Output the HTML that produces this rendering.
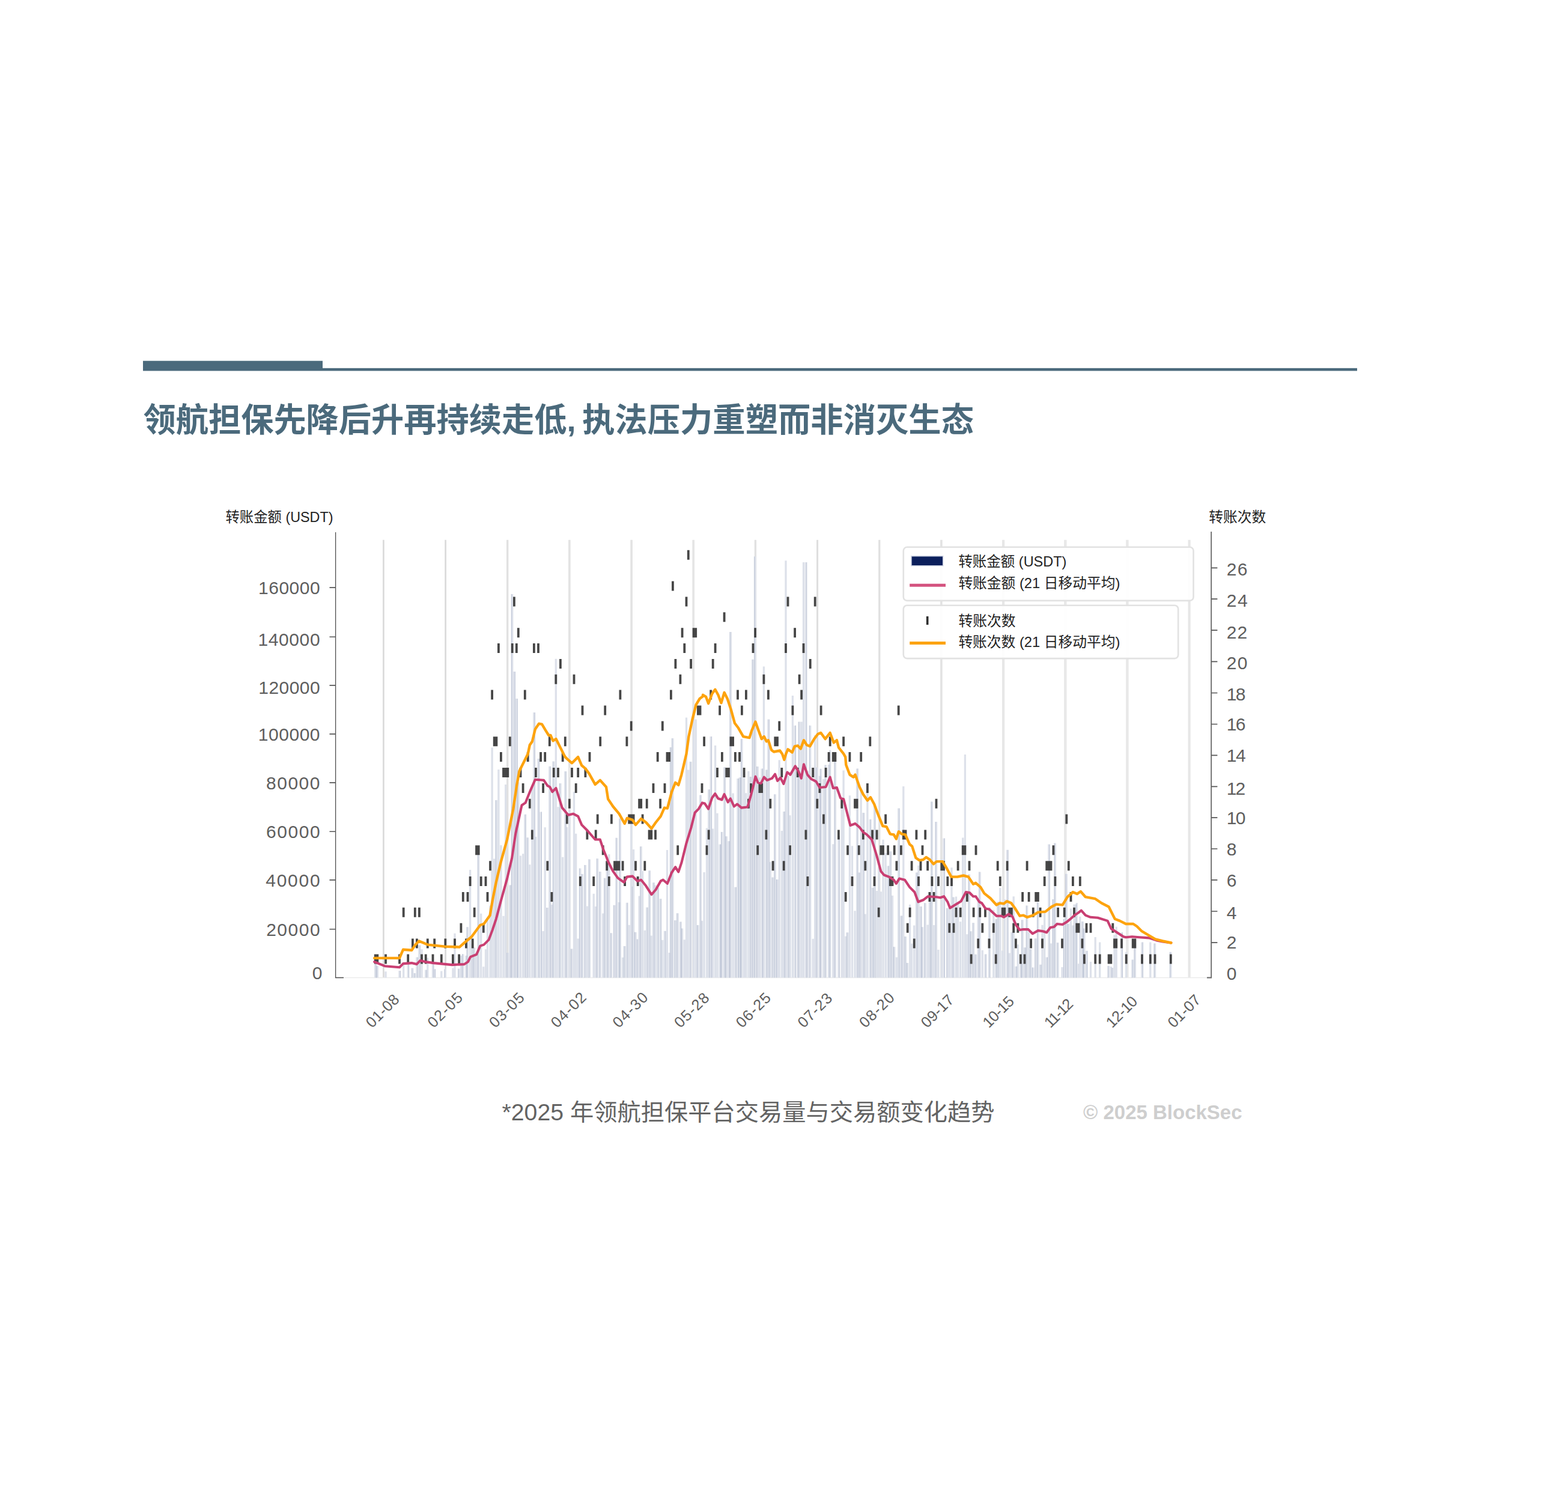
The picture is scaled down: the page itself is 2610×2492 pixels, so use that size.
<!DOCTYPE html>
<html lang="zh"><head><meta charset="utf-8"><title>chart</title>
<style>html,body{margin:0;padding:0;background:#fff}body{width:2610px;height:2492px;position:relative;overflow:hidden;font-family:"Liberation Sans",sans-serif}</style>
</head><body>
<svg width="2610" height="2492" viewBox="0 0 2610 2492" style="position:absolute;left:0;top:0;opacity:.999">
<rect x="238" y="600.7" width="299" height="16.7" fill="#4b6a7c"/>
<rect x="537" y="612.8" width="1722" height="4.6" fill="#4b6a7c"/>
<path d="M638.4 898.8V1627.5" stroke="#dbdbdb" stroke-width="2.8"/>
<path d="M741.6 898.8V1627.5" stroke="#dbdbdb" stroke-width="2.8"/>
<path d="M844.7 898.8V1627.5" stroke="#e1e1e1" stroke-width="3.4"/>
<path d="M947.9 898.8V1627.5" stroke="#e3e3e3" stroke-width="3.6"/>
<path d="M1051.1 898.8V1627.5" stroke="#e3e3e3" stroke-width="3.6"/>
<path d="M1154.2 898.8V1627.5" stroke="#e5e5e5" stroke-width="3.8"/>
<path d="M1257.4 898.8V1627.5" stroke="#e1e1e1" stroke-width="3.4"/>
<path d="M1360.6 898.8V1627.5" stroke="#dedede" stroke-width="3.0"/>
<path d="M1463.8 898.8V1627.5" stroke="#e0e0e0" stroke-width="3.2"/>
<path d="M1566.9 898.8V1627.5" stroke="#e3e3e3" stroke-width="3.6"/>
<path d="M1670.1 898.8V1627.5" stroke="#e7e7e7" stroke-width="4.2"/>
<path d="M1773.3 898.8V1627.5" stroke="#e8e8e8" stroke-width="4.4"/>
<path d="M1876.4 898.8V1627.5" stroke="#e8e8e8" stroke-width="4.4"/>
<path d="M1979.6 898.8V1627.5" stroke="#e7e7e7" stroke-width="4.2"/>
<path d="M559 1627.5H2016" stroke="#ececec" stroke-width="1.6"/>
<path d="M624.7 1627.5V1590.8M628.3 1627.5V1608.0M642.0 1627.5V1617.3M665.0 1627.5V1616.0M671.7 1627.5V1605.4M679.2 1627.5V1601.4M686.9 1627.5V1611.6M690.8 1627.5V1619.9M693.9 1627.5V1593.5M697.9 1627.5V1573.6M702.0 1627.5V1580.2M708.7 1627.5V1614.6M711.8 1627.5V1594.6M720.5 1627.5V1603.0M723.2 1627.5V1613.3M734.8 1627.5V1616.5M741.3 1627.5V1613.3M753.9 1627.5V1611.4M757.0 1627.5V1553.8M764.1 1627.5V1612.6M767.4 1627.5V1590.8M770.8 1627.5V1588.2M775.9 1627.5V1590.8M778.5 1627.5V1543.2M782.6 1627.5V1447.9M786.7 1627.5V1571.0M789.7 1627.5V1577.6M793.0 1627.5V1587.3M796.7 1627.5V1421.5M800.7 1627.5V1520.7M804.8 1627.5V1609.3M808.5 1627.5V1580.2M811.5 1627.5V1531.9M816.0 1627.5V1507.5M819.1 1627.5V1244.4M822.7 1627.5V1429.4M826.4 1627.5V1332.0M829.9 1627.5V1281.0M833.9 1627.5V1406.9M838.0 1627.5V1524.7M841.7 1627.5V1306.0M845.3 1627.5V1586.0M848.8 1627.5V1473.4M852.7 1627.5V988.9M855.9 1627.5V1118.0M859.8 1627.5V1163.0M862.8 1627.5V1302.3M866.5 1627.5V1424.4M870.6 1627.5V1421.2M873.8 1627.5V1355.7M878.7 1627.5V1394.3M881.8 1627.5V1439.2M885.8 1627.5V1310.5M888.9 1627.5V1186.0M891.9 1627.5V1393.0M896.0 1627.5V1263.0M900.1 1627.5V1351.5M904.1 1627.5V1550.0M907.2 1627.5V1377.2M911.3 1627.5V1511.0M914.8 1627.5V1275.7M918.4 1627.5V1505.7M921.7 1627.5V1267.5M925.3 1627.5V1096.8M929.0 1627.5V1343.3M932.9 1627.5V1304.0M936.7 1627.5V1426.8M940.8 1627.5V1284.1M943.8 1627.5V1376.8M947.9 1627.5V1347.9M952.0 1627.5V1579.6M955.5 1627.5V1318.0M958.7 1627.5V1387.8M962.2 1627.5V1562.5M965.8 1627.5V1445.6M969.5 1627.5V1454.9M974.4 1627.5V1439.9M977.4 1627.5V1508.6M981.5 1627.5V1430.4M988.2 1627.5V1487.8M991.7 1627.5V1508.9M994.7 1627.5V1429.2M999.2 1627.5V1451.0M1003.7 1627.5V1520.4M1007.2 1627.5V1461.7M1010.2 1627.5V1436.2M1013.8 1627.5V1422.3M1017.9 1627.5V1553.3M1023.0 1627.5V1506.8M1026.7 1627.5V1394.7M1030.3 1627.5V1502.0M1032.4 1627.5V1362.6M1036.6 1627.5V1593.7M1040.1 1627.5V1574.9M1043.4 1627.5V1502.8M1047.2 1627.5V1539.8M1050.7 1627.5V1360.1M1050.9 1627.5V1475.8M1054.6 1627.5V1414.1M1058.0 1627.5V1551.7M1061.7 1627.5V1563.5M1064.1 1627.5V1491.4M1067.2 1627.5V1409.1M1069.6 1627.5V1450.0M1073.3 1627.5V1548.7M1076.7 1627.5V1510.6M1080.6 1627.5V1449.3M1084.3 1627.5V1557.5M1087.5 1627.5V1469.2M1091.0 1627.5V1473.6M1094.7 1627.5V1478.2M1099.1 1627.5V1496.2M1102.8 1627.5V1564.8M1106.5 1627.5V1549.8M1110.5 1627.5V1414.9M1114.2 1627.5V1586.1M1116.9 1627.5V1244.0M1119.9 1627.5V1229.0M1124.4 1627.5V1532.1M1128.2 1627.5V1520.3M1132.4 1627.5V1534.4M1135.6 1627.5V1545.6M1139.3 1627.5V1564.2M1142.5 1627.5V1194.5M1145.8 1627.5V1281.6M1150.1 1627.5V1267.9M1154.6 1627.5V1177.0M1158.2 1627.5V1197.5M1161.9 1627.5V1540.1M1165.5 1627.5V1323.5M1168.5 1627.5V1532.7M1172.1 1627.5V1452.1M1176.5 1627.5V1378.5M1179.7 1627.5V1314.2M1183.2 1627.5V1226.0M1186.7 1627.5V1379.5M1190.6 1627.5V1241.0M1194.0 1627.5V1353.8M1198.1 1627.5V1405.6M1201.9 1627.5V1384.9M1205.6 1627.5V1277.3M1209.3 1627.5V1392.2M1212.9 1627.5V1400.2M1216.4 1627.5V1052.0M1220.1 1627.5V1320.4M1223.9 1627.5V1476.7M1228.0 1627.5V1296.1M1231.0 1627.5V1294.2M1234.9 1627.5V1230.0M1238.6 1627.5V1285.5M1241.9 1627.5V1320.2M1245.9 1627.5V1283.8M1250.0 1627.5V1293.0M1253.5 1627.5V1097.8M1257.1 1627.5V926.4M1261.2 1627.5V1275.9M1264.4 1627.5V1294.3M1268.1 1627.5V1279.5M1271.4 1627.5V1109.6M1275.4 1627.5V1281.5M1278.9 1627.5V1197.6M1282.3 1627.5V1434.9M1286.6 1627.5V1460.5M1290.3 1627.5V1322.3M1294.0 1627.5V1464.0M1297.2 1627.5V1265.2M1301.3 1627.5V1382.9M1304.7 1627.5V1350.9M1308.0 1627.5V933.3M1311.5 1627.5V1291.6M1315.1 1627.5V1357.2M1319.4 1627.5V1157.9M1323.1 1627.5V1207.7M1327.7 1627.5V1276.8M1330.6 1627.5V1201.6M1334.1 1627.5V1201.6M1337.5 1627.5V936.0M1341.4 1627.5V936.0M1344.4 1627.5V1283.0M1348.7 1627.5V1207.7M1353.2 1627.5V1562.8M1356.7 1627.5V1224.0M1360.3 1627.5V1277.6M1364.4 1627.5V1291.8M1366.6 1627.5V1279.8M1370.9 1627.5V1297.0M1374.6 1627.5V1273.4M1379.6 1627.5V1272.7M1381.7 1627.5V1248.5M1386.8 1627.5V1405.2M1390.4 1627.5V1264.5M1395.9 1627.5V1391.7M1401.2 1627.5V1329.6M1404.1 1627.5V1282.5M1407.7 1627.5V1558.4M1411.0 1627.5V1552.3M1414.4 1627.5V1324.2M1418.5 1627.5V1408.3M1423.0 1627.5V1516.2M1426.6 1627.5V1279.4M1429.7 1627.5V1452.6M1433.2 1627.5V1316.1M1436.8 1627.5V1353.1M1440.3 1627.5V1521.5M1443.9 1627.5V1316.9M1448.3 1627.5V1363.9M1452.1 1627.5V1477.8M1455.5 1627.5V1338.6M1459.6 1627.5V1482.9M1462.7 1627.5V1443.7M1466.3 1627.5V1484.3M1470.0 1627.5V1397.7M1474.1 1627.5V1420.0M1478.1 1627.5V1441.4M1481.8 1627.5V1417.2M1485.5 1627.5V1490.7M1488.7 1627.5V1576.2M1492.4 1627.5V1593.5M1495.7 1627.5V1345.6M1499.9 1627.5V1524.4M1503.8 1627.5V1309.0M1507.5 1627.5V1558.9M1510.7 1627.5V1602.9M1514.6 1627.5V1505.8M1517.6 1627.5V1570.7M1521.7 1627.5V1540.6M1525.4 1627.5V1452.4M1529.0 1627.5V1440.8M1532.5 1627.5V1508.9M1535.5 1627.5V1543.2M1540.2 1627.5V1503.2M1544.1 1627.5V1539.6M1547.4 1627.5V1487.0M1551.4 1627.5V1334.4M1554.5 1627.5V1539.9M1558.5 1627.5V1368.0M1562.0 1627.5V1580.9M1567.3 1627.5V1498.7M1571.0 1627.5V1395.5M1577.3 1627.5V1511.8M1580.3 1627.5V1511.2M1584.0 1627.5V1444.3M1587.5 1627.5V1493.4M1591.5 1627.5V1492.4M1594.6 1627.5V1502.4M1598.7 1627.5V1534.2M1602.7 1627.5V1394.4M1606.4 1627.5V1256.0M1609.8 1627.5V1555.2M1613.5 1627.5V1455.5M1616.6 1627.5V1550.3M1620.6 1627.5V1536.3M1624.5 1627.5V1588.7M1628.2 1627.5V1500.1M1631.2 1627.5V1451.4M1635.3 1627.5V1581.8M1640.0 1627.5V1588.4M1646.5 1627.5V1510.5M1653.8 1627.5V1514.7M1657.7 1627.5V1530.1M1660.7 1627.5V1501.3M1664.8 1627.5V1477.9M1668.7 1627.5V1582.6M1672.3 1627.5V1497.0M1676.6 1627.5V1414.8M1680.3 1627.5V1586.5M1683.9 1627.5V1551.7M1687.2 1627.5V1492.3M1690.9 1627.5V1608.7M1694.3 1627.5V1572.2M1698.8 1627.5V1600.9M1702.1 1627.5V1531.3M1705.5 1627.5V1577.3M1709.6 1627.5V1507.4M1712.6 1627.5V1551.7M1716.1 1627.5V1580.1M1719.8 1627.5V1610.6M1724.2 1627.5V1562.3M1727.9 1627.5V1502.3M1731.6 1627.5V1605.8M1735.0 1627.5V1539.8M1738.7 1627.5V1518.6M1742.2 1627.5V1593.5M1745.8 1627.5V1405.6M1749.5 1627.5V1570.5M1753.4 1627.5V1497.1M1756.4 1627.5V1403.6M1761.1 1627.5V1569.2M1768.0 1627.5V1610.0M1771.7 1627.5V1529.8M1775.3 1627.5V1454.8M1778.8 1627.5V1537.8M1782.5 1627.5V1512.5M1785.9 1627.5V1540.4M1788.0 1627.5V1505.6M1790.0 1627.5V1505.4M1792.3 1627.5V1503.1M1795.5 1627.5V1604.3M1797.8 1627.5V1525.7M1801.4 1627.5V1533.9M1804.9 1627.5V1545.6M1808.5 1627.5V1582.8M1815.5 1627.5V1601.0M1823.2 1627.5V1560.1M1830.7 1627.5V1568.5M1845.6 1627.5V1607.8M1849.3 1627.5V1609.0M1852.3 1627.5V1611.0M1855.0 1627.5V1556.3M1858.2 1627.5V1542.7M1867.0 1627.5V1552.2M1874.7 1627.5V1584.8M1885.7 1627.5V1597.6M1889.4 1627.5V1568.5M1901.0 1627.5V1568.5M1914.8 1627.5V1568.5M1922.5 1627.5V1570.5M1948.8 1627.5V1584.8" stroke="#dde1ea" stroke-width="3.3" fill="none"/>
<path d="M626.1 1627.5V1590.8M626.9 1627.5V1608.0M666.4 1627.5V1616.0M680.6 1627.5V1601.4M685.5 1627.5V1611.6M689.4 1627.5V1619.9M695.3 1627.5V1593.5M699.3 1627.5V1573.6M710.1 1627.5V1614.6M721.9 1627.5V1603.0M724.6 1627.5V1613.3M739.9 1627.5V1613.3M762.7 1627.5V1612.6M769.4 1627.5V1588.2M777.3 1627.5V1590.8M777.1 1627.5V1543.2M785.3 1627.5V1571.0M788.3 1627.5V1577.6M795.3 1627.5V1421.5M825.0 1627.5V1332.0M843.9 1627.5V1586.0M850.2 1627.5V1473.4M851.3 1627.5V988.9M857.3 1627.5V1118.0M861.2 1627.5V1163.0M861.4 1627.5V1302.3M875.2 1627.5V1355.7M877.3 1627.5V1394.3M890.3 1627.5V1186.0M897.4 1627.5V1263.0M901.5 1627.5V1351.5M909.9 1627.5V1511.0M916.2 1627.5V1275.7M920.3 1627.5V1267.5M931.5 1627.5V1304.0M942.2 1627.5V1284.1M950.6 1627.5V1579.6M964.4 1627.5V1445.6M968.1 1627.5V1454.9M973.0 1627.5V1439.9M980.1 1627.5V1430.4M993.3 1627.5V1429.2M997.8 1627.5V1451.0M1005.8 1627.5V1461.7M1011.6 1627.5V1436.2M1016.5 1627.5V1553.3M1021.6 1627.5V1506.8M1025.3 1627.5V1394.7M1031.7 1627.5V1502.0M1031.0 1627.5V1362.6M1038.7 1627.5V1574.9M1044.8 1627.5V1502.8M1052.3 1627.5V1475.8M1056.6 1627.5V1551.7M1060.3 1627.5V1563.5M1065.8 1627.5V1409.1M1078.1 1627.5V1510.6M1082.0 1627.5V1449.3M1088.9 1627.5V1469.2M1096.1 1627.5V1478.2M1100.5 1627.5V1496.2M1107.9 1627.5V1549.8M1115.6 1627.5V1586.1M1115.5 1627.5V1244.0M1118.5 1627.5V1229.0M1123.0 1627.5V1532.1M1126.8 1627.5V1520.3M1133.8 1627.5V1534.4M1134.2 1627.5V1545.6M1148.7 1627.5V1267.9M1160.5 1627.5V1540.1M1166.9 1627.5V1323.5M1181.1 1627.5V1314.2M1184.6 1627.5V1226.0M1199.5 1627.5V1405.6M1200.5 1627.5V1384.9M1207.0 1627.5V1277.3M1207.9 1627.5V1392.2M1214.3 1627.5V1400.2M1215.0 1627.5V1052.0M1225.3 1627.5V1476.7M1229.4 1627.5V1296.1M1232.4 1627.5V1294.2M1233.5 1627.5V1230.0M1248.6 1627.5V1293.0M1252.1 1627.5V1097.8M1255.7 1627.5V926.4M1259.8 1627.5V1275.9M1269.5 1627.5V1279.5M1276.8 1627.5V1281.5M1280.3 1627.5V1197.6M1285.2 1627.5V1460.5M1288.9 1627.5V1322.3M1292.6 1627.5V1464.0M1306.1 1627.5V1350.9M1312.9 1627.5V1291.6M1324.5 1627.5V1207.7M1329.2 1627.5V1201.6M1342.8 1627.5V936.0M1347.3 1627.5V1207.7M1358.9 1627.5V1277.6M1365.8 1627.5V1291.8M1365.2 1627.5V1279.8M1373.2 1627.5V1273.4M1381.0 1627.5V1272.7M1389.0 1627.5V1264.5M1397.3 1627.5V1391.7M1409.6 1627.5V1552.3M1428.0 1627.5V1279.4M1431.1 1627.5V1452.6M1438.2 1627.5V1353.1M1449.7 1627.5V1363.9M1453.5 1627.5V1477.8M1456.9 1627.5V1338.6M1479.5 1627.5V1441.4M1483.2 1627.5V1417.2M1487.3 1627.5V1576.2M1497.1 1627.5V1345.6M1501.3 1627.5V1524.4M1506.1 1627.5V1558.9M1509.3 1627.5V1602.9M1526.8 1627.5V1452.4M1533.9 1627.5V1508.9M1534.1 1627.5V1543.2M1538.8 1627.5V1503.2M1548.8 1627.5V1487.0M1550.0 1627.5V1334.4M1557.1 1627.5V1368.0M1572.4 1627.5V1395.5M1575.9 1627.5V1511.8M1586.1 1627.5V1493.4M1612.1 1627.5V1455.5M1615.2 1627.5V1550.3M1619.2 1627.5V1536.3M1623.1 1627.5V1588.7M1629.8 1627.5V1451.4M1641.4 1627.5V1588.4M1647.9 1627.5V1510.5M1659.1 1627.5V1530.1M1662.1 1627.5V1501.3M1678.0 1627.5V1414.8M1685.3 1627.5V1551.7M1692.3 1627.5V1608.7M1700.2 1627.5V1600.9M1700.7 1627.5V1531.3M1706.9 1627.5V1577.3M1708.2 1627.5V1507.4M1714.7 1627.5V1580.1M1718.4 1627.5V1610.6M1722.8 1627.5V1562.3M1726.5 1627.5V1502.3M1733.0 1627.5V1605.8M1743.6 1627.5V1593.5M1747.2 1627.5V1405.6M1752.0 1627.5V1497.1M1755.0 1627.5V1403.6M1759.7 1627.5V1569.2M1770.3 1627.5V1529.8M1773.9 1627.5V1454.8M1777.4 1627.5V1537.8M1787.3 1627.5V1540.4M1791.4 1627.5V1505.4M1802.8 1627.5V1533.9M1803.5 1627.5V1545.6M1809.9 1627.5V1582.8M1844.2 1627.5V1607.8M1850.9 1627.5V1611.0M1868.4 1627.5V1552.2M1884.3 1627.5V1597.6M1888.0 1627.5V1568.5M1902.4 1627.5V1568.5M1921.1 1627.5V1570.5M1947.4 1627.5V1584.8" stroke="#b7bfd1" stroke-width="0.9" fill="none"/>
<path d="M624.7 1588.4v16M628.3 1588.4v16M642.0 1588.4v16M665.0 1588.4v16M671.7 1510.8v16M679.2 1588.4v16M686.9 1562.6v16M690.8 1510.8v16M693.9 1562.6v16M697.9 1510.8v16M702.0 1588.4v16M708.7 1588.4v16M711.8 1562.6v16M720.5 1588.4v16M723.2 1562.6v16M734.8 1588.4v16M741.3 1562.6v16M753.9 1588.4v16M757.0 1562.6v16M764.1 1588.4v16M767.4 1536.7v16M770.8 1485.0v16M775.9 1562.6v16M778.5 1485.0v16M782.6 1459.1v16M786.7 1562.6v16M789.7 1510.8v16M793.0 1407.3v16M796.7 1407.3v16M800.7 1459.1v16M804.8 1536.7v16M808.5 1459.1v16M811.5 1485.0v16M816.0 1433.2v16M819.1 1148.6v16M822.7 1226.2v16M826.4 1226.2v16M829.9 1071.0v16M833.9 1252.1v16M838.0 1278.0v16M841.7 1278.0v16M845.3 1278.0v16M848.8 1226.2v16M852.7 1071.0v16M855.9 993.4v16M859.8 1071.0v16M862.8 1045.2v16M866.5 1278.0v16M870.6 1303.9v16M873.8 1148.6v16M878.7 1252.1v16M881.8 1329.7v16M885.8 1381.5v16M888.9 1071.0v16M891.9 1278.0v16M896.0 1071.0v16M900.1 1252.1v16M904.1 1303.9v16M907.2 1252.1v16M911.3 1433.2v16M914.8 1226.2v16M918.4 1485.0v16M921.7 1278.0v16M925.3 1122.8v16M929.0 1278.0v16M932.9 1096.9v16M936.7 1252.1v16M940.8 1226.2v16M943.8 1355.6v16M947.9 1329.7v16M952.0 1278.0v16M955.5 1122.8v16M958.7 1303.9v16M962.2 1278.0v16M965.8 1459.1v16M969.5 1174.5v16M974.4 1278.0v16M977.4 1381.5v16M981.5 1252.1v16M988.2 1459.1v16M991.7 1381.5v16M994.7 1355.6v16M999.2 1226.2v16M1003.7 1407.3v16M1007.2 1174.5v16M1010.2 1433.2v16M1013.8 1459.1v16M1017.9 1355.6v16M1023.0 1433.2v16M1026.7 1433.2v16M1030.3 1433.2v16M1032.4 1148.6v16M1036.6 1433.2v16M1040.1 1459.1v16M1043.4 1226.2v16M1047.2 1355.6v16M1050.7 1200.4v16M1050.9 1355.6v16M1054.6 1355.6v16M1058.0 1433.2v16M1061.7 1459.1v16M1064.1 1329.7v16M1067.2 1329.7v16M1069.6 1355.6v16M1073.3 1433.2v16M1076.7 1329.7v16M1080.6 1381.5v16M1084.3 1381.5v16M1087.5 1303.9v16M1091.0 1381.5v16M1094.7 1252.1v16M1099.1 1329.7v16M1102.8 1200.4v16M1106.5 1303.9v16M1110.5 1252.1v16M1114.2 1252.1v16M1116.9 1148.6v16M1119.9 967.5v16M1124.4 1096.9v16M1128.2 1407.3v16M1132.4 1122.8v16M1135.6 1045.2v16M1139.3 1071.0v16M1142.5 993.4v16M1145.8 915.8v16M1150.1 1096.9v16M1154.6 1045.2v16M1158.2 1045.2v16M1161.9 1174.5v16M1165.5 1174.5v16M1168.5 1303.9v16M1172.1 1226.2v16M1176.5 1407.3v16M1179.7 1381.5v16M1183.2 1148.6v16M1186.7 1096.9v16M1190.6 1071.0v16M1194.0 1278.0v16M1198.1 1174.5v16M1201.9 1252.1v16M1205.6 1019.3v16M1209.3 1278.0v16M1212.9 1278.0v16M1216.4 1226.2v16M1220.1 1226.2v16M1223.9 1252.1v16M1228.0 1148.6v16M1231.0 1252.1v16M1234.9 1174.5v16M1238.6 1278.0v16M1241.9 1148.6v16M1245.9 1329.7v16M1250.0 1303.9v16M1253.5 1071.0v16M1257.1 1045.2v16M1261.2 1407.3v16M1264.4 1303.9v16M1268.1 1303.9v16M1271.4 1122.8v16M1275.4 1381.5v16M1278.9 1148.6v16M1282.3 1329.7v16M1286.6 1433.2v16M1290.3 1226.2v16M1294.0 1226.2v16M1297.2 1200.4v16M1301.3 1278.0v16M1304.7 1433.2v16M1308.0 1071.0v16M1311.5 993.4v16M1315.1 1407.3v16M1319.4 1174.5v16M1323.1 1045.2v16M1327.7 1278.0v16M1330.6 1122.8v16M1334.1 1148.6v16M1337.5 1071.0v16M1341.4 1381.5v16M1344.4 1459.1v16M1348.7 1096.9v16M1353.2 1278.0v16M1356.7 993.4v16M1360.3 1329.7v16M1364.4 1303.9v16M1366.6 1174.5v16M1370.9 1355.6v16M1374.6 1278.0v16M1379.6 1252.1v16M1381.7 1226.2v16M1386.8 1252.1v16M1390.4 1252.1v16M1395.9 1381.5v16M1401.2 1329.7v16M1404.1 1226.2v16M1407.7 1485.0v16M1411.0 1407.3v16M1414.4 1252.1v16M1418.5 1459.1v16M1423.0 1329.7v16M1426.6 1329.7v16M1429.7 1407.3v16M1433.2 1252.1v16M1436.8 1381.5v16M1440.3 1433.2v16M1443.9 1303.9v16M1448.3 1226.2v16M1452.1 1381.5v16M1455.5 1459.1v16M1459.6 1381.5v16M1462.7 1510.8v16M1466.3 1407.3v16M1470.0 1407.3v16M1474.1 1355.6v16M1478.1 1407.3v16M1481.8 1459.1v16M1485.5 1459.1v16M1488.7 1407.3v16M1492.4 1433.2v16M1495.7 1174.5v16M1499.9 1407.3v16M1503.8 1381.5v16M1507.5 1381.5v16M1510.7 1536.7v16M1514.6 1510.8v16M1517.6 1433.2v16M1521.7 1562.6v16M1525.4 1381.5v16M1529.0 1459.1v16M1532.5 1433.2v16M1535.5 1407.3v16M1540.2 1381.5v16M1544.1 1433.2v16M1547.4 1485.0v16M1551.4 1459.1v16M1554.5 1485.0v16M1558.5 1329.7v16M1562.0 1459.1v16M1567.3 1433.2v16M1571.0 1433.2v16M1577.3 1459.1v16M1580.3 1536.7v16M1584.0 1459.1v16M1587.5 1536.7v16M1591.5 1510.8v16M1594.6 1433.2v16M1598.7 1510.8v16M1602.7 1407.3v16M1606.4 1407.3v16M1609.8 1485.0v16M1613.5 1433.2v16M1616.6 1588.4v16M1620.6 1510.8v16M1624.5 1407.3v16M1628.2 1562.6v16M1631.2 1510.8v16M1635.3 1536.7v16M1640.0 1510.8v16M1646.5 1562.6v16M1653.8 1536.7v16M1657.7 1588.4v16M1660.7 1433.2v16M1664.8 1459.1v16M1668.7 1510.8v16M1672.3 1510.8v16M1676.6 1433.2v16M1680.3 1510.8v16M1683.9 1510.8v16M1687.2 1536.7v16M1690.9 1562.6v16M1694.3 1536.7v16M1698.8 1588.4v16M1702.1 1485.0v16M1705.5 1588.4v16M1709.6 1433.2v16M1712.6 1485.0v16M1716.1 1562.6v16M1719.8 1510.8v16M1724.2 1485.0v16M1727.9 1485.0v16M1731.6 1510.8v16M1735.0 1562.6v16M1738.7 1459.1v16M1742.2 1433.2v16M1745.8 1433.2v16M1749.5 1433.2v16M1753.4 1407.3v16M1756.4 1459.1v16M1761.1 1510.8v16M1768.0 1562.6v16M1771.7 1510.8v16M1775.3 1355.6v16M1778.8 1433.2v16M1782.5 1485.0v16M1785.9 1459.1v16M1788.0 1510.8v16M1792.3 1536.7v16M1795.5 1536.7v16M1797.8 1459.1v16M1801.4 1562.6v16M1804.9 1588.4v16M1808.5 1536.7v16M1815.5 1536.7v16M1823.2 1588.4v16M1830.7 1588.4v16M1845.6 1588.4v16M1849.3 1588.4v16M1852.3 1536.7v16M1855.0 1562.6v16M1858.2 1562.6v16M1867.0 1562.6v16M1874.7 1588.4v16M1885.7 1562.6v16M1889.4 1562.6v16M1901.0 1588.4v16M1914.8 1588.4v16M1922.5 1588.4v16M1948.8 1588.4v16" stroke="#383838" stroke-width="3.8" fill="none" opacity=".93"/>
<path d="M623.2 1601.1L640.5 1608.2L665.0 1610.2L671.1 1604.1L685.3 1603.1L693.5 1605.1L699.6 1599.0L707.7 1601.1L722.0 1603.1L752.5 1606.1L772.8 1605.1L779.0 1601.1L783.0 1592.9L793.2 1588.8L799.3 1574.6L805.4 1572.6L813.6 1564.4L819.7 1548.1L825.8 1529.8L833.9 1499.3L844.1 1462.6L852.2 1428.0L858.3 1387.3L868.5 1340.5L874.6 1336.4L882.8 1316.1L890.9 1297.7L905.2 1298.8L911.3 1307.9L915.3 1310.0L919.4 1318.1L925.5 1312.0L935.7 1344.6L945.9 1356.8L954.0 1354.7L962.2 1358.8L968.3 1373.1L976.4 1381.2L990.7 1397.5L998.8 1397.5L1004.9 1415.8L1010.0 1428.0L1012.2 1434.1L1020.4 1450.4L1028.5 1461.6L1038.7 1468.7L1043.8 1459.6L1052.9 1458.6L1061.1 1466.7L1067.2 1464.7L1075.3 1474.8L1084.5 1489.1L1091.6 1481.0L1099.7 1466.7L1103.8 1464.7L1110.9 1470.8L1118.1 1452.5L1124.2 1443.3L1129.3 1451.4L1134.4 1436.2L1142.5 1403.6L1150.6 1377.1L1156.7 1352.7L1162.8 1346.6L1169.0 1336.4L1173.0 1337.4L1179.1 1346.6L1185.2 1328.3L1190.3 1321.2L1195.4 1329.3L1201.5 1331.3L1205.6 1322.2L1211.7 1335.4L1215.8 1329.3L1221.9 1342.5L1227.0 1338.5L1234.1 1344.6L1244.3 1343.5L1250.4 1322.2L1254.5 1305.9L1257.5 1292.7L1261.6 1302.8L1266.7 1303.9L1271.8 1293.7L1276.8 1298.8L1285.0 1295.7L1290.1 1288.6L1294.1 1299.8L1299.2 1294.7L1304.3 1304.9L1310.4 1285.5L1315.5 1289.6L1323.7 1275.4L1328.8 1283.5L1333.8 1295.7L1337.9 1272.3L1344.0 1289.6L1350.1 1296.7L1358.3 1300.8L1364.4 1311.0L1374.6 1310.0L1381.7 1293.7L1386.8 1312.0L1392.9 1311.0L1399.0 1328.3L1400.2 1329.3L1404.2 1330.3L1410.4 1354.7L1415.4 1374.1L1423.6 1371.0L1430.7 1377.1L1436.8 1385.3L1442.9 1389.4L1451.1 1397.5L1459.2 1424.0L1466.3 1450.4L1471.4 1456.5L1479.6 1459.6L1487.7 1464.7L1491.8 1470.8L1496.9 1462.6L1506.0 1464.7L1514.2 1476.9L1522.3 1485.0L1528.4 1501.3L1536.6 1498.3L1544.7 1492.2L1559.0 1493.2L1565.1 1494.2L1571.2 1492.2L1577.3 1501.3L1581.3 1511.5L1589.5 1506.4L1599.7 1500.3L1607.8 1485.0L1613.9 1486.0L1620.0 1492.2L1624.1 1492.2L1630.2 1501.3L1634.3 1503.3L1640.4 1512.5L1646.5 1513.5L1658.7 1524.7L1666.8 1524.7L1670.9 1526.8L1679.1 1521.7L1685.2 1525.7L1691.3 1540.0L1697.4 1548.1L1703.5 1547.1L1711.6 1547.1L1718.8 1554.2L1727.9 1549.1L1736.1 1550.2L1742.2 1552.2L1748.3 1544.1L1754.4 1543.0L1759.5 1538.0L1768.6 1539.0L1776.8 1533.9L1782.9 1528.8L1789.0 1523.3L1794.7 1519.6L1799.8 1515.6L1806.9 1523.7L1815.1 1526.8L1827.3 1527.8L1843.6 1532.9L1849.7 1546.1L1857.8 1551.2L1870.0 1559.3L1874.1 1560.3L1884.3 1559.3L1896.5 1560.3L1912.8 1561.4L1925.0 1565.4L1935.2 1567.5L1949.4 1569.5" stroke="#c93f72" stroke-width="4.1" fill="none" stroke-linejoin="round" stroke-linecap="round"/>
<path d="M623.2 1594.9L665.0 1594.9L671.1 1580.7L685.3 1581.7L691.4 1572.6L697.5 1566.5L711.8 1572.6L740.3 1575.6L764.7 1576.6L772.8 1569.5L785.1 1559.3L799.3 1540.0L805.4 1538.0L815.6 1523.7L819.7 1499.3L825.8 1468.7L833.9 1434.1L844.1 1397.5L854.3 1346.6L860.4 1305.9L864.5 1283.5L872.6 1267.2L878.7 1255.0L881.8 1240.3L885.9 1234.2L890.9 1213.8L897.0 1204.7L902.1 1205.7L908.2 1215.9L913.3 1224.0L916.4 1224.0L920.5 1233.2L925.5 1230.1L930.6 1240.3L938.8 1256.6L940.8 1260.1L943.8 1263.1L952.0 1270.3L962.2 1260.1L968.3 1274.3L974.4 1279.4L980.5 1287.6L990.7 1305.9L998.8 1298.8L1009.0 1310.0L1012.2 1330.3L1020.4 1342.5L1030.5 1354.7L1039.7 1371.0L1043.8 1361.9L1052.9 1364.9L1058.0 1373.1L1067.2 1362.9L1075.3 1369.0L1084.5 1379.2L1091.6 1369.0L1099.7 1358.8L1105.9 1344.6L1110.9 1345.6L1118.1 1318.1L1124.2 1302.8L1129.3 1306.9L1134.4 1289.6L1142.5 1255.0L1146.4 1226.1L1152.5 1197.6L1158.6 1173.1L1164.7 1163.0L1169.8 1159.3L1170.0 1156.8L1175.1 1159.9L1179.2 1171.1L1185.3 1154.8L1190.4 1147.7L1195.4 1156.8L1200.5 1170.1L1205.6 1152.8L1210.7 1163.0L1216.8 1181.3L1222.9 1203.7L1229.0 1211.8L1237.2 1226.1L1247.4 1228.1L1251.4 1215.9L1257.5 1201.6L1262.6 1215.9L1267.7 1230.1L1271.8 1226.1L1275.9 1234.2L1278.9 1232.2L1284.0 1248.4L1288.1 1251.5L1298.2 1249.5L1302.3 1255.6L1305.4 1264.7L1308.4 1254.6L1311.5 1247.4L1318.6 1252.5L1322.7 1242.3L1327.8 1241.3L1332.8 1246.4L1337.9 1232.2L1343.0 1240.3L1348.1 1242.3L1355.2 1230.1L1361.3 1222.0L1366.4 1219.9L1373.6 1230.1L1381.7 1219.9L1387.8 1236.2L1392.9 1232.2L1396.0 1244.4L1404.1 1254.6L1407.2 1260.1L1408.3 1273.3L1414.4 1289.6L1420.5 1293.7L1423.6 1289.6L1430.7 1310.0L1436.8 1322.2L1443.9 1332.4L1449.0 1327.3L1455.1 1338.5L1461.2 1354.7L1469.4 1375.1L1475.5 1376.1L1481.6 1388.3L1487.7 1389.4L1491.8 1396.5L1495.9 1384.3L1500.9 1388.3L1507.0 1389.4L1514.2 1405.6L1518.2 1408.7L1524.4 1428.0L1530.5 1432.1L1536.6 1431.1L1541.7 1427.0L1547.8 1431.1L1553.9 1438.2L1559.0 1434.1L1569.1 1434.1L1575.2 1444.3L1583.4 1459.6L1593.6 1459.6L1603.7 1457.5L1611.9 1459.6L1620.0 1471.8L1624.1 1469.8L1632.2 1476.9L1638.3 1487.1L1648.5 1495.2L1658.7 1506.4L1664.8 1503.3L1670.9 1504.4L1676.0 1500.3L1683.1 1503.3L1689.2 1511.5L1697.4 1524.7L1703.5 1523.7L1709.6 1526.8L1719.8 1523.7L1727.9 1518.6L1740.1 1517.6L1750.3 1509.5L1758.4 1505.4L1768.6 1506.4L1776.8 1493.2L1785.9 1485.0L1792.7 1488.1L1798.8 1484.0L1806.9 1493.2L1823.2 1496.2L1833.4 1503.3L1845.6 1509.5L1855.8 1529.8L1863.9 1532.9L1874.1 1538.0L1886.3 1538.0L1892.4 1542.0L1900.6 1550.2L1912.8 1557.3L1923.0 1563.4L1935.2 1566.5L1949.4 1569.5" stroke="#fda30e" stroke-width="4.4" fill="none" stroke-linejoin="round" stroke-linecap="round"/>
<path d="M558.6 886V1627.5H572" stroke="#4d4d4d" stroke-width="1.3" fill="none"/>
<path d="M2016.2 885V1627.5H2009" stroke="#666" stroke-width="1.8" fill="none"/>
<path d="M548.5 978.1H558.8M548.5 1060.2H558.8M548.5 1140.9H558.8M548.5 1221.9H558.8M548.5 1302.9H558.8M548.5 1384.2H558.8M548.5 1464.9H558.8M548.5 1546.7H558.8" stroke="#555" stroke-width="1.6"/>
<path d="M2016.2 945.4H2026.4M2016.2 997.1H2026.4M2016.2 1049.1H2026.4M2016.2 1101.4H2026.4M2016.2 1153.5H2026.4M2016.2 1205.5H2026.4M2016.2 1257.4H2026.4M2016.2 1309.4H2026.4M2016.2 1361.1H2026.4M2016.2 1413.0H2026.4M2016.2 1464.9H2026.4M2016.2 1517.0H2026.4M2016.2 1569.1H2026.4" stroke="#555" stroke-width="1.6"/>
<g font-family="'Liberation Sans', sans-serif" font-size="30" fill="#5e5e5e">
<text x="533.1" y="989.3" text-anchor="end" letter-spacing="0.48">160000</text>
<text x="533.2" y="1074.6" text-anchor="end" letter-spacing="0.61">140000</text>
<text x="533.0" y="1155.3" text-anchor="end" letter-spacing="0.43">120000</text>
<text x="533.1" y="1233.4" text-anchor="end" letter-spacing="0.54">100000</text>
<text x="534.1" y="1314.3" text-anchor="end" letter-spacing="1.55">80000</text>
<text x="534.2" y="1395.1" text-anchor="end" letter-spacing="1.56">60000</text>
<text x="534.3" y="1476.4" text-anchor="end" letter-spacing="1.71">40000</text>
<text x="534.1" y="1558.1" text-anchor="end" letter-spacing="1.50">20000</text>
<text x="538.0" y="1630.1" text-anchor="end" letter-spacing="1.62">0</text>
<text x="2041.8" y="957.7" letter-spacing="1.16">26</text>
<text x="2041.8" y="1010.4" letter-spacing="1.53">24</text>
<text x="2041.8" y="1062.8" letter-spacing="1.01">22</text>
<text x="2041.8" y="1114.4" letter-spacing="1.31">20</text>
<text x="2041.8" y="1165.7" letter-spacing="-1.80">18</text>
<text x="2041.8" y="1216.0" letter-spacing="-1.79">16</text>
<text x="2041.8" y="1268.3" letter-spacing="-1.41">14</text>
<text x="2041.8" y="1322.8" letter-spacing="-1.93">12</text>
<text x="2041.8" y="1371.6" letter-spacing="-1.63">10</text>
<text x="2041.8" y="1424.0" letter-spacing="1.27">8</text>
<text x="2041.8" y="1476.0" letter-spacing="1.30">6</text>
<text x="2041.8" y="1530.2" letter-spacing="2.05">4</text>
<text x="2041.8" y="1579.0" letter-spacing="1.01">2</text>
<text x="2041.8" y="1631.0" letter-spacing="1.62">0</text>
</g>
<g font-family="'Liberation Sans', sans-serif" font-size="25.2" fill="#5e5e5e">
<text transform="translate(619.2 1712.3) rotate(-45)" letter-spacing="0.52">01-08</text>
<text transform="translate(721.9 1712.3) rotate(-45)" letter-spacing="1.46">02-05</text>
<text transform="translate(824.5 1712.3) rotate(-45)" letter-spacing="1.50">03-05</text>
<text transform="translate(927.2 1712.3) rotate(-45)" letter-spacing="1.65">04-02</text>
<text transform="translate(1029.9 1712.3) rotate(-45)" letter-spacing="1.68">04-30</text>
<text transform="translate(1132.6 1712.3) rotate(-45)" letter-spacing="1.40">05-28</text>
<text transform="translate(1235.2 1712.3) rotate(-45)" letter-spacing="1.41">06-25</text>
<text transform="translate(1337.9 1712.3) rotate(-45)" letter-spacing="1.19">07-23</text>
<text transform="translate(1440.6 1712.3) rotate(-45)" letter-spacing="1.51">08-20</text>
<text transform="translate(1543.2 1712.3) rotate(-45)" letter-spacing="0.21">09-17</text>
<text transform="translate(1645.9 1712.3) rotate(-45)" letter-spacing="-0.62">10-15</text>
<text transform="translate(1748.6 1712.3) rotate(-45)" letter-spacing="-1.71">11-12</text>
<text transform="translate(1851.2 1712.3) rotate(-45)" letter-spacing="-0.61">12-10</text>
<text transform="translate(1953.9 1712.3) rotate(-45)" letter-spacing="0.26">01-07</text>
</g>
<rect x="1503.8" y="910.8" width="482.7" height="89.1" rx="6" fill="#fff" fill-opacity=".92" stroke="#e2e2e2" stroke-width="2.6"/>
<rect x="1503.8" y="1007.7" width="457.4" height="88.4" rx="6" fill="#fff" fill-opacity=".92" stroke="#e2e2e2" stroke-width="2.6"/>
<rect x="1517" y="925.8" width="52.7" height="16" fill="#0b1f5c" stroke="#c9cfe0" stroke-width="1.5"/>
<path d="M1514.2 974.3H1574" stroke="#d4527f" stroke-width="5"/>
<path d="M1543.7 1026v14" stroke="#2e2e2e" stroke-width="3.6"/>
<path d="M1514.2 1070.4H1574" stroke="#fca311" stroke-width="5"/>
<text x="238.5" y="717.8" font-family="'Liberation Sans', 'Noto Sans CJK SC', sans-serif" font-size="54.4" font-weight="700" fill="#4b6a7c" textLength="720" lengthAdjust="spacingAndGlyphs">领航担保先降后升再持续走低,</text>
<text x="969" y="717.8" font-family="'Liberation Sans', 'Noto Sans CJK SC', sans-serif" font-size="54.4" font-weight="700" fill="#4b6a7c" textLength="652" lengthAdjust="spacingAndGlyphs">执法压力重塑而非消灭生态</text>
<g font-family="'Liberation Sans', 'Noto Sans CJK SC', sans-serif" font-size="23.7" fill="#222">
<text x="375.5" y="868.7" textLength="179" lengthAdjust="spacingAndGlyphs">转账金额 (USDT)</text>
<text x="2012.3" y="868.6" textLength="95" lengthAdjust="spacingAndGlyphs">转账次数</text>
<text x="1595.4" y="943.0" textLength="180" lengthAdjust="spacingAndGlyphs">转账金额 (USDT)</text>
<text x="1595.4" y="979.0" textLength="269" lengthAdjust="spacingAndGlyphs">转账金额 (21 日移动平均)</text>
<text x="1595.4" y="1042.4" textLength="95" lengthAdjust="spacingAndGlyphs">转账次数</text>
<text x="1595.4" y="1076.6" textLength="269" lengthAdjust="spacingAndGlyphs">转账次数 (21 日移动平均)</text>
</g>
<text x="835.5" y="1864.5" font-family="'Liberation Sans', 'Noto Sans CJK SC', sans-serif" font-size="38.8" fill="#636363" textLength="820" lengthAdjust="spacingAndGlyphs">*2025 年领航担保平台交易量与交易额变化趋势</text>
<text x="1803" y="1863.4" font-family="'Liberation Sans', sans-serif" font-weight="700" font-size="32.5" fill="#cecece" textLength="264.5" lengthAdjust="spacingAndGlyphs">© 2025 BlockSec</text>
</svg>
</body></html>
